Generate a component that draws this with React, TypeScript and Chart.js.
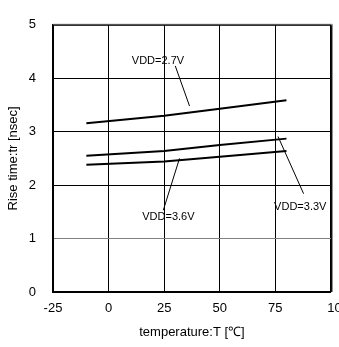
import React, { useEffect, useRef } from "react";
import { Chart, registerables } from "chart.js";
Chart.register(...registerables);

const temps = [-10, 25, 50, 80];
const vdd27 = [3.16, 3.3, 3.43, 3.59];
const vdd33 = [2.55, 2.64, 2.75, 2.87];
const vdd36 = [2.38, 2.44, 2.53, 2.64];
const xTicks = [-25, 0, 25, 50, 75, 100];
const yTicks = [0, 1, 2, 3, 4, 5];

const labelTexts = ["VDD=2.7V", "VDD=3.6V", "VDD=3.3V"];
const labelX = [22.2, 26.9, 86.2];
const labelY = [4.33, 1.4, 1.6];
const leader27 = [{ x: 30, y: 4.23 }, { x: 36.4, y: 3.48 }];
const leader36 = [{ x: 31.9, y: 2.5 }, { x: 24.6, y: 1.53 }];
const leader33 = [{ x: 76.2, y: 2.91 }, { x: 87.7, y: 1.84 }];

const FONT = "'Liberation Sans', Arial, sans-serif";

export default function App() {
  const ref = useRef<HTMLCanvasElement | null>(null);
  useEffect(() => {
    if (!ref.current) return;
    const toPts = (ys: number[]) => temps.map((t, i) => ({ x: t, y: ys[i] }));
    const lineDs = (data: any[], w: number) => ({
      data,
      borderColor: "#000",
      borderWidth: w,
      pointRadius: 0,
      showLine: true,
      fill: false,
      tension: 0,
    });
    const framePlugin = {
      id: "frame",
      afterDatasetsDraw(chart: any) {
        const { ctx, chartArea: a, scales } = chart;
        ctx.save();
        ctx.strokeStyle = "#888";
        ctx.lineWidth = 1;
        ctx.beginPath();
        ctx.moveTo(a.left, a.top - 0.5);
        ctx.lineTo(a.right + 1.5, a.top - 0.5);
        ctx.lineTo(a.right + 1.5, a.bottom);
        ctx.stroke();
        ctx.strokeStyle = "#000";
        ctx.beginPath();
        ctx.moveTo(a.left, a.top + 0.5);
        ctx.lineTo(a.right + 0.5, a.top + 0.5);
        ctx.lineTo(a.right + 0.5, a.bottom);
        ctx.stroke();
        ctx.fillStyle = "#000";
        ctx.font = `11px ${FONT}`;
        ctx.textAlign = "center";
        ctx.textBaseline = "middle";
        labelTexts.forEach((t, i) => {
          ctx.fillText(t, scales.x.getPixelForValue(labelX[i]), scales.y.getPixelForValue(labelY[i]));
        });
        ctx.restore();
      },
    };
    const chart = new Chart(ref.current, {
      type: "scatter",
      data: {
        datasets: [
          lineDs(toPts(vdd27), 2),
          lineDs(toPts(vdd33), 2),
          lineDs(toPts(vdd36), 2),
          lineDs(leader27, 1),
          lineDs(leader36, 1),
          lineDs(leader33, 1),
        ] as any,
      },
      options: {
        animation: false,
        responsive: false,
        layout: { padding: { top: 10, right: 0, left: 0, bottom: 0 } },
        plugins: { legend: { display: false }, tooltip: { enabled: false } },
        scales: {
          x: {
            type: "linear",
            min: -25,
            max: 100,
            afterBuildTicks: (s: any) => {
              s.ticks = xTicks.map((v) => ({ value: v }));
            },
            afterFit: (s: any) => {
              s.height = 55;
            },
            ticks: {
              color: "#000",
              font: { family: FONT, size: 13 },
              padding: 9,
              maxRotation: 0,
              callback: (v: any) => (v === 100 ? "    100" : String(v)),
            },
            grid: { color: "#000", lineWidth: 1, drawTicks: false },
            border: { color: "#000", width: 2 },
            title: {
              display: true,
              text: "temperature:T [℃]",
              color: "#000",
              font: { family: FONT, size: 13 },
              padding: { top: 7, bottom: 7 },
            },
          },
          y: {
            type: "linear",
            min: 0,
            max: 5,
            afterBuildTicks: (s: any) => {
              s.ticks = yTicks.map((v) => ({ value: v }));
            },
            afterFit: (s: any) => {
              s.width = 53;
            },
            ticks: { color: "#000", font: { family: FONT, size: 13 }, padding: 17 },
            grid: {
              color: (c: any) => (c.tick && c.tick.value === 1 ? "#808080" : "#000"),
              lineWidth: 1,
              drawTicks: false,
            },
            border: { color: "#000", width: 2 },
            title: {
              display: true,
              text: "Rise time:tr [nsec]",
              color: "#000",
              font: { family: FONT, size: 13 },
              padding: { top: 6, bottom: 6 },
            },
          },
        },
      },
      plugins: [framePlugin],
    });
    return () => chart.destroy();
  }, []);
  return (
    <div style={{ position: "absolute", left: 0, top: 0, width: 339, height: 347, overflow: "hidden", background: "#fff" }}>
      <canvas ref={ref} width={358} height={347} style={{ width: 358, height: 347, display: "block" }} />
    </div>
  );
}
